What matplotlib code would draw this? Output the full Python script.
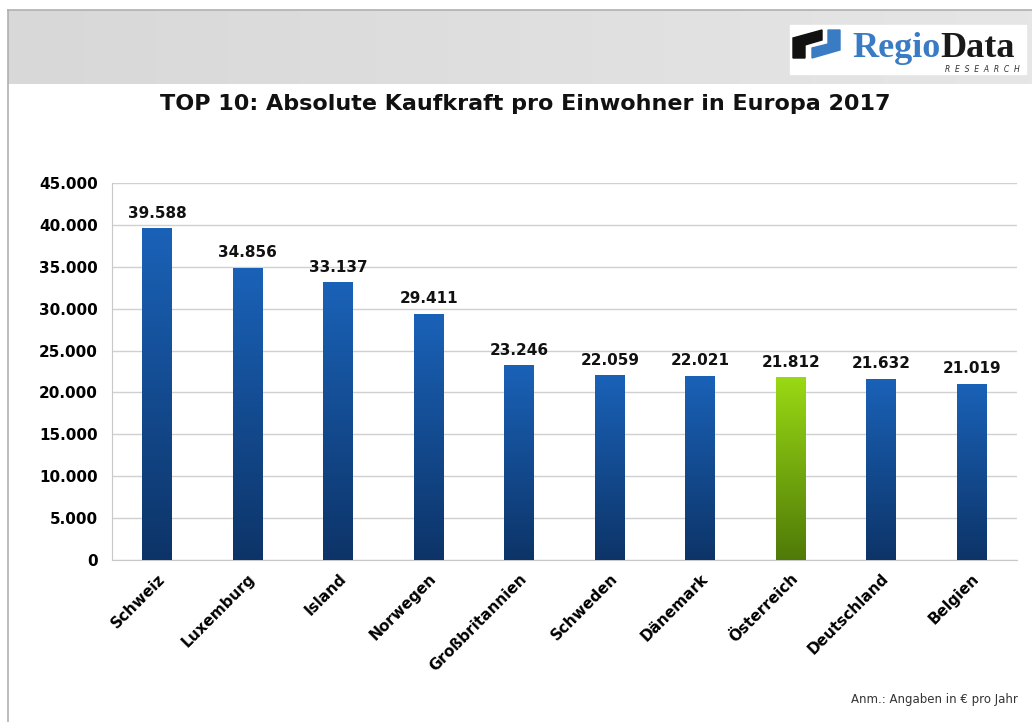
import numpy as np
import matplotlib.pyplot as plt
from matplotlib.patches import Rectangle, Polygon
from matplotlib.colors import LinearSegmentedColormap

countries = ['Schweiz', 'Luxemburg', 'Island', 'Norwegen', 'Großbritannien',
             'Schweden', 'Dänemark', 'Österreich', 'Deutschland', 'Belgien']
values = [39588, 34856, 33137, 29411, 23246, 22059, 22021, 21812, 21632, 21019]
highlight = 'Österreich'
yticks = [0, 5000, 10000, 15000, 20000, 25000, 30000, 35000, 40000, 45000]

def fmt(v):
    return f'{v:,.0f}'.replace(',', '.')

blue_cmap = LinearSegmentedColormap.from_list('b', ['#0d3468', '#1a62b8'])
green_cmap = LinearSegmentedColormap.from_list('g', ['#4f7a08', '#9ad914'])

fig = plt.figure(figsize=(10.32, 7.22), dpi=100)
fig.patch.set_facecolor('white')

# header band and frame
W, H = 1032, 722
def fx(px): return px / W
def fy(py): return 1 - py / H
hdr = np.linspace(0, 1, 256).reshape(1, -1)
hax = fig.add_axes([fx(8), fy(84), 1 - fx(8), (84 - 10) / H])
hax.imshow(hdr, cmap=LinearSegmentedColormap.from_list('h', ['#d8d8d8', '#e6e6e6']),
           aspect='auto', extent=[0, 1, 0, 1])
hax.axis('off')
fig.add_artist(plt.Line2D([fx(8), fx(8)], [0, fy(10)], color='#b0b0b0', lw=1.2))
fig.add_artist(plt.Line2D([fx(8), 1], [fy(10), fy(10)], color='#b0b0b0', lw=1.2))

# logo
fig.add_artist(Rectangle((fx(790), fy(74)), fx(236), (74 - 25) / H, color='white',
                         transform=fig.transFigure))
fig.add_artist(Polygon([(fx(793), fy(58)), (fx(793), fy(38)), (fx(822), fy(30)),
                        (fx(822), fy(40)), (fx(805), fy(45)), (fx(805), fy(58))],
                       closed=True, color='#111111', transform=fig.transFigure))
fig.add_artist(Polygon([(fx(812), fy(58)), (fx(840), fy(50)), (fx(840), fy(30)),
                        (fx(828), fy(30)), (fx(828), fy(44)), (fx(812), fy(48))],
                       closed=True, color='#3a7cc4', transform=fig.transFigure))
t1 = fig.text(fx(852), fy(57), 'Regio', fontsize=26, family='Liberation Serif',
              weight='bold', color='#3a7cc4', va='baseline')
fig.canvas.draw()
bb = t1.get_window_extent()
fig.text(bb.x1 / W, fy(57), 'Data', fontsize=26, family='Liberation Serif',
         weight='bold', color='#1a1a1a', va='baseline')
fig.text(fx(1020), fy(71.5), 'R  E  S  E  A  R  C  H', fontsize=5.5, style='italic',
         color='#333333', va='baseline', ha='right')

fig.text(fx(525), fy(104), 'TOP 10: Absolute Kaufkraft pro Einwohner in Europa 2017',
         ha='center', va='center', fontsize=16, weight='bold', color='#111111')
fig.text(fx(1018), fy(700), 'Anm.: Angaben in € pro Jahr', ha='right', va='center',
         fontsize=8.5, color='#333333')

ax = fig.add_axes([fx(112), fy(560), (1017 - 112) / W, (560 - 183) / H])
x = np.arange(len(countries))
bars = ax.bar(x, values, width=0.33, color='none', zorder=3)
grad = np.linspace(0, 1, 256).reshape(-1, 1)
for rect, c, v in zip(bars, countries, values):
    cmap = green_cmap if c == highlight else blue_cmap
    x0, w, h = rect.get_x(), rect.get_width(), rect.get_height()
    im = ax.imshow(grad, cmap=cmap, origin='lower', aspect='auto',
                   extent=[x0, x0 + w, 0, h], zorder=3)
    im.set_clip_path(rect)
    ax.text(x0 + w / 2, v + 900, fmt(v), ha='center', va='bottom',
            fontsize=11, weight='bold', color='#111111')

ax.set_xlim(-0.5, len(countries) - 0.5)
ax.set_ylim(0, 45000)
ax.set_yticks(yticks)
ax.set_yticklabels([fmt(t) for t in yticks], fontsize=11, weight='bold')
ax.set_xticks(x)
ax.set_xticklabels(countries, rotation=45, ha='right', rotation_mode='anchor',
                   fontsize=11, weight='bold')
ax.tick_params(length=0, pad=10)
ax.tick_params(axis='x', pad=8)
ax.grid(axis='y', color='#d0d0d0', lw=1, zorder=0)
for s in ['top', 'right']:
    ax.spines[s].set_visible(False)
ax.spines['left'].set_color('#c8c8c8')
ax.spines['bottom'].set_color('#c8c8c8')

fig.savefig('out.png', dpi=100)
